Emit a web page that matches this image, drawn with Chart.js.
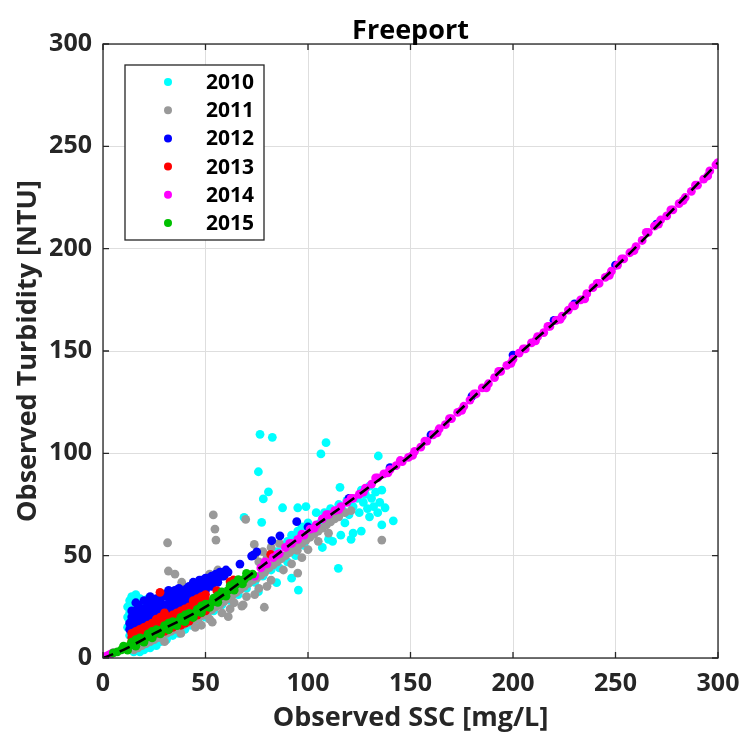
<!DOCTYPE html>
<html>
<head>
<meta charset="utf-8">
<script src="https://cdn.jsdelivr.net/npm/chart.js@4.4.1/dist/chart.umd.min.js"></script>
<style>
  html, body { margin: 0; padding: 0; background: #fff; }
  #wrap { width: 744px; height: 738px; }
</style>
</head>
<body>
<div id="wrap"><canvas id="chart" width="744" height="738"></canvas></div>
<script>
// Freeport: observed SSC [mg/L] vs observed turbidity [NTU], by year
const years = ["2010", "2011", "2012", "2013", "2014", "2015"];
const colors = ["#00ffff", "#999999", "#0000ff", "#ff0000", "#ff00ff", "#00c000"];
const axisTicks = [0, 50, 100, 150, 200, 250, 300];

// dashed rating curve
const fitSSC = [0, 10, 25, 50, 75, 100, 125, 150, 175, 200, 225, 250, 275, 300];
const fitNTU = [0, 4, 12, 25, 43, 62, 80, 99, 122, 146, 168, 191, 216, 242];

// [SSC, NTU] pairs
const obs2010 = [
  [13,18],[13,22],[14,26],[14,30],[15,20],[15,24],[15,28],[16,16],[16,31],[17,22],[17,27],[18,19],
  [18,29],[19,24],[20,17],[20,27],[21,22],[22,29],[23,25],[24,20],[25,27],[26,23],[27,19],[28,25],
  [12,15],[12,20],[12,25],[13,28],[13,11],[14,12],[15,9],[16,7],[18,10],[20,12],[22,14],[24,13],
  [26,16],[30,17],[32,20],[34,22],
  [15,3],[18,3],[20,4],[23,5],[26,6],[28,8],[31,9],[34,11],[37,12],[40,14],[43,16],[46,18],
  [50,20],[54,23],[58,26],[62,28],[66,31],[70,34],[74,37],[78,40],
  [76.6,109.3],[82.6,107.8],[108.8,105.2],[106.3,99.7],[134.3,98.7],[75.8,91],[80.7,81.2],[78.2,77.7],
  [115.6,83.4],[87.6,73.4],[95,73.4],[99,74],[68.8,68.7],[77.4,66.3],[136,82],[137.6,73.4],
  [141.6,67],[136,65],[114.8,43.8],[95.3,33.2],[92,39],[84.7,36.8],[75.8,32.4],[84.7,46],
  [85,52],[88,55],[90,57],[92,60],[95,62],[97,64],[100,66],[102,63],[104,71],[106,66],[108,71],
  [110,68],[111,73],[113,70],[115,75],[117,72],[119,77],[120,70],[122,74],[124,78],[125,71],
  [127,76],[128,80],[129,73],[130,69],[131,78],[132,74],[133,81],[134,71],[135,76],[130,84],
  [126,82],[118,66],[122,61],[112,57],[107,54],[116,60],[121,58],[126,62],[110,58],[98,55],
  [94,50],[90,47],[86,44],[82,43],[80,46],[84,49]
];
const obs2011 = [
  [53.8,69.9],[54.6,63],[55.1,57.6],[31.5,56.3],[69.6,67.7],[31.9,42.5],[35.1,41],[38.4,37],
  [52,41],[56,43],[73.8,55.5],[67.7,25.4],[78.7,24.8],[61.1,20.2],[53.3,17.5],[68.4,26],
  [136,57.6],[95,41.5],[94.8,52.6],[97,49],[74,50],[78,52],[82,54],[86,56],[76,47],[80,49],
  [15,4],[17,5],[19,6],[21,7],[23,8],[25,9],[27,10],[29,11],[31,12],[33,13],[35,14],[37,15],
  [39,16],[41,17],[43,18],[45,19],[47,20],[49,21],[51,22],[53,23.5],[55,25],[57,26],[59,27.5],
  [61,29],[63,30.5],[65,32],[67,33.5],[69,35],[71,36.5],[73,38],[75,39],[77,40.5],[79,42],
  [81,44],[83,45.5],[85,47],[87,48.5],[89,50],[91,51.5],[93,53],[95,54.5],[97,56],[99,57.5],
  [101,59],[103,60.5],[105,62],[107,63.5],[109,65],[111,66.5],[113,68],[115,69],[118,71],[121,72],
  [30,8],[38,12],[45,15],[52,19],[58,22],[64,27],[70,30],[76,34],[82,38],[88,43],[92,46],
  [100,53],[105,57],[110,61],[80,35],[74,31],[62,24],[48,16]
];
const obs2012 = [
  [13,14],[13,17],[14,20],[15,16],[16,19],[16,23],[17,26],[18,21],[19,18],[19,24],[20,28],[21,22],
  [22,19],[22,26],[23,30],[24,24],[25,21],[26,27],[27,24],[28,29],[29,22],[30,26],[31,30],[32,33],
  [33,28],[34,25],[35,31],[36,28],[37,34],[38,30],[39,27],[40,33],[41,30],[42,35],[43,32],[44,37],
  [45,34],[46,31],[47,36],[48,38],[49,34],[50,37],[51,39],[52,36],[53,40],[54,38],[55,41],[56,39],
  [57,42],[58,40],[59,42],[60,43],[61,42],
  [14,15],[14,18],[14,23],[16,27],[17,16],[17,19],[17,23],[20,17],[20,20],[20,24],[23,18],[23,22],
  [23,27],[26,20],[26,24],[26,29],[29,21],[29,25],[29,31],[32,22],[32,26],[32,30],[35,23],[35,27],
  [35,33],[38,25],[38,28],[38,33],[41,26],[41,29],[41,34],[44,29],[44,32],[47,30],[47,34],[47,38],
  [50,33],[50,39],[53,35],[53,38],[56,37],[56,41],[59,40],
  [31.9,32.4],[66.8,45.9],[73.3,50.3],[72.5,49.8],[75,51.9],[82.3,57.3],[86.3,59.7],[94.5,66.6],
  [100,64],[120,78],[140,93],[160,109],[180,128],[200,148],[220,165],[230,173],[250,192],[270,212]
];
const obs2013 = [
  [14,8],[14,10],[14,12],[16,9],[16,11],[16,13],[18,10],[18,12],[18,14],[20,10],[20,13],[20,15],
  [22,11],[22,14],[22,16],[24,12],[24,14],[24,17],[26,12],[26,15],[26,18],[28,13],[28,16],[28,19],
  [30,13],[30,16],[30,19],[32,14],[32,17],[32,20],[34,15],[34,18],[34,21],[36,16],[36,19],[36,22],
  [38,16],[38,20],[38,23],[40,17],[40,21],[40,24],[42,18],[42,22],[42,25],[44,20],[44,23],[44,26],
  [44,28],[46,21],[46,24],[46,27],[46,29],[48,22],[48,25],[48,28],[48,30],[50,23],[50,26],[50,29],
  [50,31],[26,19],[28,20],[30,22],
  [27.8,32.1],[55.5,32.9],[62,37.3],[63.6,38.1],[81.8,50.6]
];
const obs2014 = [
  [0,0],[1,0.5],[2,1],[3,1.5],[4,2],[5,2.5],
  [74,40],[77,44],[80,46],[83,49],[86,51],[89,54],[92,56],[95,58],[98,60],[101,63],[104,65],
  [107,68],[110,70],[113,72],[116,74],[119,76],[122,78],[125,80],[128,83],[131,85],[134,88],
  [137,90],[140,92],[143,94],[146,96],[149,98],[152,101],[155,103],[158,106],[161,109],[164,112],
  [167,114],[170,117],[173,120],[176,123],[179,126],[182,129],[185,132],[188,134],[191,137],
  [194,140],[197,143],[200,146],[203,149],[206,151],[209,154],[212,157],[215,159],[218,162],
  [221,165],[224,167],[227,170],[230,172],[233,175],[236,178],[239,181],[242,183],[245,186],
  [248,189],[251,192],[254,195],[257,198],[260,201],[263,204],[266,208],[269,211],[272,214],
  [275,216],[278,219],[281,222],[284,225],[287,228],[290,231],[293,234],[296,238],[299,241],[300,242],
  [79,47],[85,50.5],[91,56],[97,60.5],[103,63.5],[109,70],[115,72.5],[121,78],[127,81],[133,88],
  [139,90.5],[145,96.5],[151,99],[157,106],[163,110],[169,117],[175,121],[181,129],[187,132],
  [193,140],[199,144],[205,151],[211,155],[217,162],[223,165.5],[229,172],[235,175.5],[241,183],
  [247,187],[253,195],[259,199],[265,208],[271,212],[277,219],[283,223.5],[289,231],[295,235.5]
];
const obs2015 = [
  [5,2.5],[7,3],[9,4],[11,5],[13,6],[15,7],[17,8],[19,9],[21,10],[23,11],[25,12],[27,13],
  [29,14],[31,15],[33,16],[35,17],[37,18],[39,19],[41,20],[43,21],[45,22],[47,23.5],[49,24.5],
  [51,26],[53,27],[55,28.5],[57,30],[59,31.5],[61,33],[63,34.5],[65,36],[67,37],[69,38.5],
  [71,40],[73,41],
  [10,5.8],[14,7.8],[18,9.8],[22,11.8],[26,13.8],[30,15.8],[34,17.8],[38,19.8],[42,21.8],
  [46,23.8],[50,26.3],[54,29.3],[58,32.3],[62,35.3],[66,38.3],[70,41.3],
  [12,3.8],[16,5.8],[20,7.8],[24,9.8],[28,11.8],[32,13.8],[36,15.8],[40,17.8],[44,19.8],
  [48,22.2],[52,24.7],[56,27.2],[60,30.2],[64,33.2],[68,36.2],
  [16,9],[24,13],[32,17],[40,21],[48,25.5],[56,30.5],[64,36.5]
];
const series = [obs2010, obs2011, obs2012, obs2013, obs2014, obs2015];

const FONT = "'Open Sans', 'DejaVu Sans', sans-serif";
const INK = "#262626";

const datasets = series.map((s, i) => ({
  type: "scatter",
  label: years[i],
  data: s.map(p => ({ x: p[0], y: p[1] })),
  backgroundColor: colors[i],
  borderWidth: 0,
  pointRadius: 4.4,
  order: 6 - i          // later years on top, as in the original
}));
datasets.push({
  type: "line",
  label: "fit",
  data: fitSSC.map((x, i) => ({ x: x, y: fitNTU[i] })),
  borderColor: "#000",
  borderWidth: 2.6,
  borderDash: [11, 7],
  pointRadius: 0,
  fill: false,
  cubicInterpolationMode: "monotone",
  order: 0
});

// frame, inner ticks, titles and legend box
const decorations = {
  id: "decorations",
  afterDraw(chart) {
    const ctx = chart.ctx;
    const a = chart.chartArea;
    const xs = chart.scales.x, ys = chart.scales.y;
    ctx.save();
    ctx.strokeStyle = INK;
    ctx.lineWidth = 1.3;
    ctx.strokeRect(a.left, a.top, a.right - a.left, a.bottom - a.top);
    ctx.beginPath();
    axisTicks.forEach(v => {
      const px = xs.getPixelForValue(v);
      ctx.moveTo(px, a.bottom); ctx.lineTo(px, a.bottom - 6);
      ctx.moveTo(px, a.top); ctx.lineTo(px, a.top + 6);
      const py = ys.getPixelForValue(v);
      ctx.moveTo(a.left, py); ctx.lineTo(a.left + 6, py);
      ctx.moveTo(a.right, py); ctx.lineTo(a.right - 6, py);
    });
    ctx.stroke();

    ctx.fillStyle = "#000";
    ctx.font = "bold 27px " + FONT;
    ctx.textAlign = "center";
    ctx.textBaseline = "alphabetic";
    ctx.fillText("Freeport", (a.left + a.right) / 2, 39);

    ctx.fillStyle = INK;
    ctx.font = "bold 27px " + FONT;
    ctx.fillText("Observed SSC [mg/L]", (a.left + a.right) / 2, 726);
    ctx.save();
    ctx.translate(36, (a.top + a.bottom) / 2);
    ctx.rotate(-Math.PI / 2);
    ctx.fillText("Observed Turbidity [NTU]", 0, 0);
    ctx.restore();

    // legend
    const L = 125, T = 65, W = 139, H = 175;
    ctx.fillStyle = "#fff";
    ctx.fillRect(L, T, W, H);
    ctx.strokeStyle = "#262626";
    ctx.lineWidth = 1.3;
    ctx.strokeRect(L, T, W, H);
    ctx.font = "bold 21px " + FONT;
    ctx.textAlign = "left";
    ctx.textBaseline = "middle";
    years.forEach((yr, i) => {
      const cy = T + 17 + i * 28.2;
      ctx.fillStyle = colors[i];
      ctx.beginPath();
      ctx.arc(L + 43, cy, 4, 0, Math.PI * 2);
      ctx.fill();
      ctx.fillStyle = "#000";
      ctx.fillText(yr, L + 81, cy + 1);
    });
    ctx.restore();
  }
};

new Chart(document.getElementById("chart"), {
  data: { datasets: datasets },
  options: {
    responsive: false,
    animation: false,
    events: [],
    layout: { padding: { top: 44, right: 26, left: 0, bottom: 0 } },
    plugins: { legend: { display: false }, title: { display: false }, tooltip: { enabled: false } },
    scales: {
      x: {
        type: "linear",
        min: 0, max: 300,
        afterBuildTicks: s => { s.ticks = axisTicks.map(v => ({ value: v })); },
        afterFit: s => { s.height = 80; s.paddingLeft = 0; s.paddingRight = 0; },
        grid: { color: "#dedede", lineWidth: 1, drawTicks: false },
        border: { display: false },
        ticks: { padding: 11, color: INK, font: { family: FONT, size: 25, weight: "bold" } }
      },
      y: {
        type: "linear",
        min: 0, max: 300,
        afterBuildTicks: s => { s.ticks = axisTicks.map(v => ({ value: v })); },
        afterFit: s => { s.width = 103; s.paddingTop = 0; s.paddingBottom = 0; },
        grid: { color: "#dedede", lineWidth: 1, drawTicks: false },
        border: { display: false },
        ticks: { padding: 11, color: INK, font: { family: FONT, size: 25, weight: "bold" } }
      }
    }
  },
  plugins: [decorations]
});
</script>
</body>
</html>
